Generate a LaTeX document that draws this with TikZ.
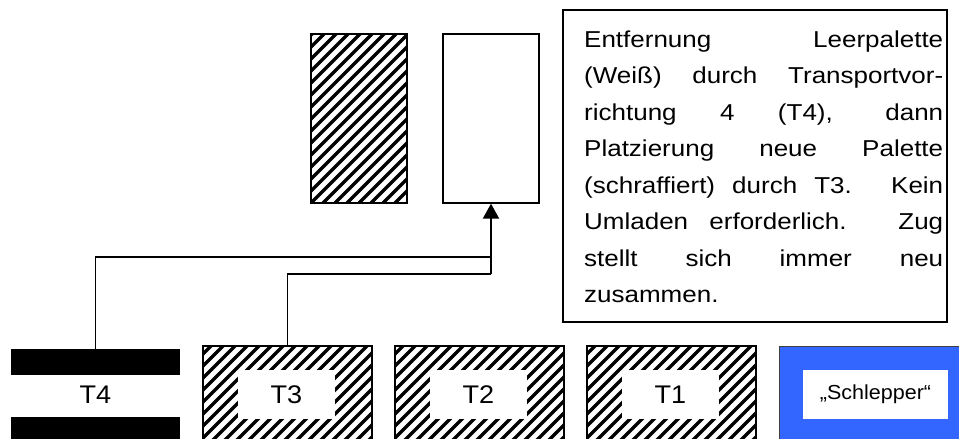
\documentclass[tikz,border=0pt]{standalone}
\usepackage{fontspec}
\setmainfont{Liberation Sans}[FakeStretch=1.13]
\newfontfamily\labelfont{Liberation Sans}[FakeStretch=1.06]
\usetikzlibrary{arrows.meta}
\definecolor{schlepperblue}{RGB}{51,102,255}
\tikzset{
  frame/.style={draw, line width=1.3pt, inner sep=0pt},
  hatched/.style={frame, path picture={
      \foreach \k in {-25,...,25}
        \draw[line width=3.2pt]
          ([xshift=\k*12pt]path picture bounding box.south west) -- ++(260pt,260pt);
    }},
  labelbox/.style={fill=white, inner sep=0pt, minimum width=97pt, minimum height=49pt,
    font=\labelfont\fontsize{25.5}{28}\selectfont},
  bar/.style={fill=black, inner sep=0pt, minimum width=169pt, minimum height=26pt},
  link/.style={line width=1.3pt},
  notetext/.style={anchor=base west, inner sep=0pt, font=\fontsize{23}{36.5}\selectfont},
}
\begin{document}
\begin{tikzpicture}[x=1pt, y=-1pt]
\useasboundingbox (0,0) rectangle (959,439);

% pallets at the transfer station
\node[hatched, minimum width=96pt, minimum height=169pt] (newpal) at (359,118.5) {};
\node[frame, minimum width=96pt, minimum height=169pt] (oldpal) at (491,118.5) {};

% explanatory note
\node[frame, line width=1.5pt, minimum width=384pt, minimum height=312pt] (note) at (755,166) {};
\foreach \txt [count=\i] in {
    {Entfernung Leerpalette},
    {(Weiß) durch Transportvor-},
    {richtung 4 (T4), dann},
    {Platzierung neue Palette},
    {(schraffiert) durch T3. Kein},
    {Umladen erforderlich. Zug},
    {stellt sich immer neu}}
  \node[notetext] (line\i) at (584,{47+36.5*(\i-1)}) {\makebox[359pt][s]{\txt}};
\node[notetext] (line8) at (584,{47+36.5*7}) {zusammen.};

% transport vehicle T4 (two bars)
\node[bar] (t4top) at (95.5,362) {};
\node[bar] (t4bot) at (95.5,430) {};
\node[font=\labelfont\fontsize{25.5}{28}\selectfont, inner sep=0pt] (t4lbl) at (95.5,394.5) {T4};

% loaded trailers T3, T2, T1
\node[hatched, minimum width=169pt, minimum height=104pt] (t3) at (287.5,398) {};
\node[labelbox] (t3lbl) at (286.5,394.5) {T3};
\node[hatched, minimum width=169pt, minimum height=104pt] (t2) at (479.5,398) {};
\node[labelbox] (t2lbl) at (478.5,394.5) {T2};
\node[hatched, minimum width=169pt, minimum height=104pt] (t1) at (671.5,398) {};
\node[labelbox] (t1lbl) at (670.5,394.5) {T1};

% tractor
\node[draw=black!75, line width=1pt, fill=schlepperblue, inner sep=0pt,
      minimum width=186pt, minimum height=104pt] (schlepper) at (872,398) {};
\node[fill=white, inner sep=0pt, minimum width=145pt, minimum height=49pt,
      font=\labelfont\fontsize{20.3}{24}\selectfont] (schlepperlbl) at (875.5,394.5) {„Schlepper“};

% connectors
\coordinate (m4) at (491,257);
\coordinate (m3) at (491,274);
\draw[link] (t4top.north) |- (m4);
\draw[link] (t3.north) |- (m3);
\draw[line width=2pt, -{Triangle[length=15pt, width=16pt]}] (m3) -- (oldpal.south);
\end{tikzpicture}
\end{document}
